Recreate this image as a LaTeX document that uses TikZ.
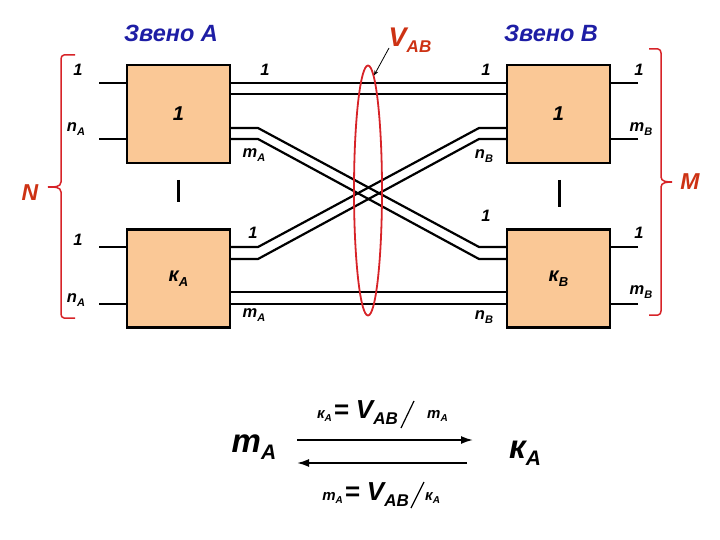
\documentclass[tikz,border=0pt]{standalone}
\usepackage{fontspec}
\setmainfont{Liberation Sans}
\usetikzlibrary{shapes.geometric,arrows.meta,calc}
\definecolor{peach}{RGB}{250,200,150}
\definecolor{zblue}{RGB}{30,30,165}
\definecolor{zred}{RGB}{205,50,20}
\definecolor{bred}{RGB}{215,35,40}
\newcommand\mysub[2][11]{\raisebox{-0.45ex}{\fontsize{#1}{#1}\selectfont #2}}
\newcommand\lf{\fontsize{16.5}{16.5}\selectfont\bfseries\itshape}
\begin{document}
\begin{tikzpicture}[x=1pt,y=-1pt,
  box/.style={draw, line width=2.4pt, fill=peach, minimum width=103pt, minimum height=98pt, inner sep=0pt},
  wire/.style={line width=2.2pt},
  lab/.style={font=\lf, inner sep=0pt},
  ttl/.style={font=\fontsize{23.5}{23.5}\selectfont\bfseries\itshape, text=zblue, inner sep=0pt},
  brace/.style={draw=bred, line width=1.5pt},
  arr/.style={line width=1.8pt, -{Latex[length=12pt,width=8pt]}},
  sep/.style={line width=3pt}]
\useasboundingbox (0,0) rectangle (720,540);
% level coordinates
\foreach \yy in {83,94,128,139,247,259,292,304} {\coordinate (y\yy) at (0,\yy);}
% boxes
\node[box] (A1) at (178.5,114) {\fontsize{20}{20}\selectfont\bfseries\itshape 1};
\node[box] (kA) at (178.5,278.5) {\fontsize{20}{20}\selectfont\bfseries\itshape к\mysub[13]{A}};
\node[box] (B1) at (558.5,114) {\fontsize{20}{20}\selectfont\bfseries\itshape 1};
\node[box] (kB) at (558.5,278.5) {\fontsize{20}{20}\selectfont\bfseries\itshape к\mysub[13]{B}};
% free ends
\coordinate (ai1) at (99,83);  \coordinate (ai2) at (99,139);
\coordinate (ai3) at (99,247); \coordinate (ai4) at (99,304);
\coordinate (bo1) at (638,83); \coordinate (bo2) at (638,139);
\coordinate (bo3) at (638,247); \coordinate (bo4) at (638,304);
% input/output stubs
\draw[wire] (ai1) -- (ai1 -| A1.west);
\draw[wire] (ai2) -- (ai2 -| A1.west);
\draw[wire] (ai3) -- (ai3 -| kA.west);
\draw[wire] (ai4) -- (ai4 -| kA.west);
\draw[wire] (bo1) -- (bo1 -| B1.east);
\draw[wire] (bo2) -- (bo2 -| B1.east);
\draw[wire] (bo3) -- (bo3 -| kB.east);
\draw[wire] (bo4) -- (bo4 -| kB.east);
% straight links
\draw[wire] (A1.east |- y83) -- (B1.west |- y83);
\draw[wire] (A1.east |- y94) -- (B1.west |- y94);
\draw[wire] (kA.east |- y292) -- (kB.west |- y292);
\draw[wire] (kA.east |- y304) -- (kB.west |- y304);
% crossing links
\draw[wire] (A1.east |- y128) -- (258,128) -- (479,247) -- (kB.west |- y247);
\draw[wire] (A1.east |- y139) -- (258,139) -- (479,259) -- (kB.west |- y259);
\draw[wire] (kA.east |- y247) -- (258,247) -- (479,128) -- (B1.west |- y128);
\draw[wire] (kA.east |- y259) -- (258,259) -- (479,139) -- (B1.west |- y139);
% separators
\draw[sep] (178,180) -- (178,202);
\draw[sep] (559,180) -- (559,207);
% ellipse
\node[ellipse, draw=bred, line width=1.8pt, minimum width=28pt, minimum height=250pt, inner sep=0pt] (ell) at (368,190.5) {};
\node[inner sep=0pt, text=zred, font=\fontsize{27}{27}\selectfont\bfseries\itshape] (vab) at (410,40) {V\mysub[17]{AB}};
\draw[line width=0.8pt, -{Stealth[length=5pt,width=4pt]}] (389,48) -- (ell.87);
% titles
\node[ttl] (tA) at (171,33) {Звено А};
\node[ttl] (tB) at (551,33) {Звено В};
% labels
\node[lab] at (78,70) {1};
\node[lab] at (76,129) {n\mysub{A}};
\node[lab] at (78,240) {1};
\node[lab] at (76,300) {n\mysub{A}};
\node[lab] at (265,70) {1};
\node[lab] at (254,155) {m\mysub{A}};
\node[lab] at (253,233) {1};
\node[lab] at (254,315) {m\mysub{A}};
\node[lab] at (486,70) {1};
\node[lab] at (484,156) {n\mysub{B}};
\node[lab] at (486,216) {1};
\node[lab] at (484,317) {n\mysub{B}};
\node[lab] at (639,70) {1};
\node[lab] at (641,129) {m\mysub{B}};
\node[lab] at (639,233) {1};
\node[lab] at (641,292) {m\mysub{B}};
% braces
\draw[brace] (75,55) -- (64,55) to[out=180,in=90] (61,59) -- (61,182) to[out=270,in=0] (48,187) to[out=0,in=90] (61,192) -- (61,314) to[out=270,in=180] (64,318) -- (75,318);
\draw[brace] (649,49) -- (658,49) to[out=0,in=90] (661,53) -- (661,177) to[out=270,in=180] (672,182) to[out=180,in=90] (661,187) -- (661,311) to[out=270,in=0] (658,315) -- (649,315);
\node[inner sep=0pt, text=zred, font=\fontsize{23}{23}\selectfont\bfseries\itshape] (N) at (30,193) {N};
\node[inner sep=0pt, text=zred, font=\fontsize{23}{23}\selectfont\bfseries\itshape] (M) at (690,182) {M};
% bottom relation
\node[inner sep=0pt, anchor=base, font=\fontsize{33}{33}\selectfont\bfseries\itshape] (mA) at (254,452) {m\mysub[21]{A}};
\node[inner sep=0pt, anchor=base, font=\fontsize{33}{33}\selectfont\bfseries\itshape] (kAb) at (525,458) {к\mysub[21]{A}};
\coordinate (f1) at (297,440); \coordinate (f2) at (473,440);
\coordinate (g1) at (467,463); \coordinate (g2) at (297,463);
\draw[arr] (f1) -- (f2);
\draw[arr] (g1) -- (g2);
\node[inner sep=0pt, anchor=base east, font=\bfseries\itshape] (e1) at (398,418)
  {{\fontsize{15}{15}\selectfont к\mysub[10]{A}}\,{\fontsize{26}{26}\selectfont = V\mysub[17]{AB}}};
\draw[line width=1.2pt] (401,428) -- (414,401);
\node[inner sep=0pt, anchor=base west, font=\fontsize{15}{15}\selectfont\bfseries\itshape] (e2) at (427,418) {m\mysub[10]{A}};
\node[inner sep=0pt, anchor=base east, font=\bfseries\itshape] (e3) at (409,500)
  {{\fontsize{15}{15}\selectfont m\mysub[10]{A}}\,{\fontsize{26}{26}\selectfont = V\mysub[17]{AB}}};
\draw[line width=1.2pt] (411,508) -- (424,482);
\node[inner sep=0pt, anchor=base west, font=\fontsize{15}{15}\selectfont\bfseries\itshape] (e4) at (425,500) {к\mysub[10]{A}};
\end{tikzpicture}
\end{document}
